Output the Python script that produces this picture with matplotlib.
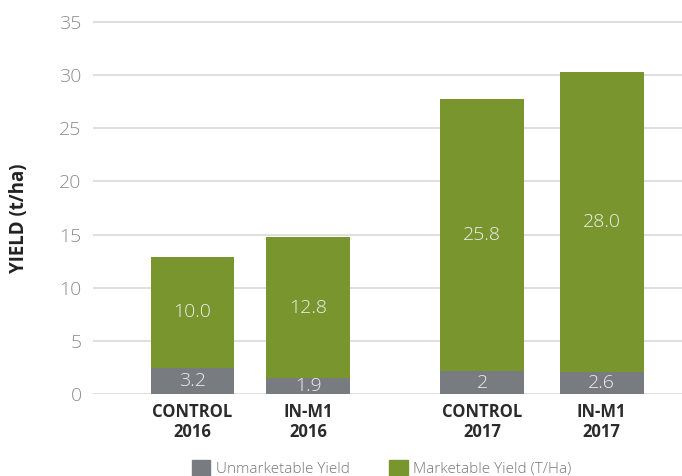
import numpy as np
import matplotlib.pyplot as plt
from matplotlib.patches import Patch

# Yield per treatment (t/ha)
categories = ['CONTROL\n2016', 'IN-M1\n2016', 'CONTROL\n2017', 'IN-M1\n2017']
unmarketable = [2.5, 1.5, 2.15, 2.1]
marketable = [10.4, 13.3, 25.55, 28.2]
unmarketable_labels = ['3.2', '1.9', '2', '2.6']
marketable_labels = ['10.0', '12.8', '25.8', '28.0']
series_names = ['Unmarketable Yield', 'Marketable Yield (T/Ha)']

gray = '#787b80'
green = '#78952e'
font = 'Open Sans'

x = np.array([0, 1, 2.5, 3.53])

fig = plt.figure(figsize=(6.82, 4.76), dpi=100)
ax = fig.add_axes([0.1358, 0.1716, 0.8642, 0.7943])

b1 = ax.bar(x, unmarketable, width=0.724, color=gray, zorder=3)
b2 = ax.bar(x, marketable, width=0.724, bottom=unmarketable, color=green, zorder=3)

for i in range(len(x)):
    ax.text(x[i], unmarketable[i] / 2, unmarketable_labels[i], ha='center', va='center',
            color='#eeeeee', fontsize=14, family=font, fontweight='light', zorder=4)
    ax.text(x[i], unmarketable[i] + marketable[i] / 2, marketable_labels[i], ha='center',
            va='center', color='#eeeeee', fontsize=14, family=font, fontweight='light', zorder=4)

ax.set_xlim(-0.862, 4.224)
ax.set_ylim(0, 35.5)
ax.set_yticks(range(0, 36, 5))
ax.yaxis.grid(True, color='#dcdcdc', linewidth=1.3)
ax.set_axisbelow(True)
for s in ax.spines.values():
    s.set_visible(False)

ax.tick_params(axis='y', length=0, pad=8, labelsize=14, labelcolor='#8c8c8c')
ax.tick_params(axis='x', length=0, pad=6, labelsize=12, labelcolor='#2b2b2b')
ax.set_xticks(x)
ax.set_xticklabels(categories, fontweight='bold', family=font, linespacing=1.15)
for t in ax.get_yticklabels():
    t.set_family(font)
    t.set_fontweight('light')

ax.set_ylabel('YIELD (t/ha)', fontsize=13.5, fontweight='bold', family=font, color='#222222')
ax.yaxis.set_label_coords(-0.108, 0.466)

handles = [Patch(color=gray), Patch(color=green)]
fig.legend(handles, series_names, loc='upper left', bbox_to_anchor=(192 / 682, 1 - 460 / 476),
           ncol=2, frameon=False, borderpad=0, borderaxespad=0, handlelength=1.2,
           handleheight=1.2, handletextpad=0.35, columnspacing=2.6,
           prop={'family': font, 'weight': 'light', 'size': 11}, labelcolor='#777777')

fig.savefig('out.png', dpi=100)
